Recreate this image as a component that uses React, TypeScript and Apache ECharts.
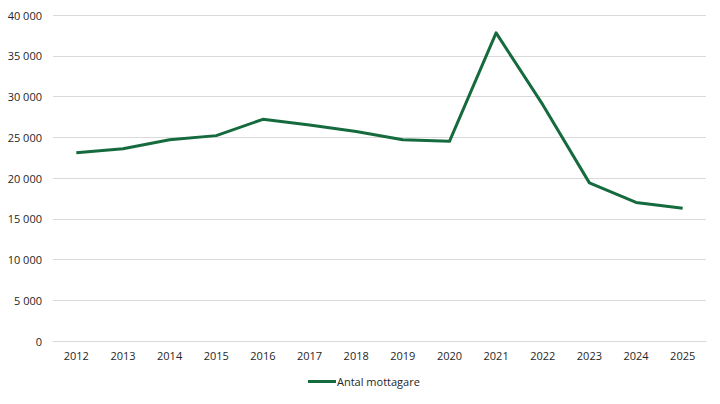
import React, { useEffect, useRef } from "react";
import * as echarts from "echarts";

const years = ["2012", "2013", "2014", "2015", "2016", "2017", "2018", "2019", "2020", "2021", "2022", "2023", "2024", "2025"];
const mottagare = [23100, 23600, 24700, 25200, 27200, 26500, 25700, 24700, 24500, 37800, 29000, 19400, 17000, 16300];
const seriesName = "Antal mottagare";

const fmt = (v: number) => String(v).replace(/\B(?=(\d{3})+(?!\d))/g, " ");

export default function App() {
  const ref = useRef<HTMLDivElement>(null);
  useEffect(() => {
    if (!ref.current) return;
    const chart = echarts.init(ref.current, null, { renderer: "svg" });
    const font = "'Open Sans', 'Noto Sans', sans-serif";
    const txt = "#262626";
    chart.setOption({
      animation: false,
      backgroundColor: "#ffffff",
      grid: { left: 53, right: 14, top: 15, bottom: 63 },
      legend: {
        bottom: 12,
        left: 303,
        itemWidth: 28,
        itemHeight: 3,
        itemGap: 10,
        icon: "rect",
        textStyle: { fontFamily: font, fontSize: 11, color: txt, padding: [0, 0, 0, -4] },
        data: [seriesName],
      },
      xAxis: {
        type: "category",
        data: years,
        boundaryGap: true,
        axisLine: { show: true, lineStyle: { color: "#d9d9d9", width: 1 } },
        axisTick: { show: false },
        axisLabel: { fontFamily: font, fontSize: 11, color: txt, margin: 9 },
      },
      yAxis: {
        type: "value",
        min: 0,
        max: 40000,
        interval: 5000,
        axisLine: { show: false },
        axisTick: { show: false },
        splitLine: { lineStyle: { color: "#d9d9d9", width: 1 } },
        axisLabel: { fontFamily: font, fontSize: 11, color: txt, margin: 11, formatter: (v: number) => fmt(v) },
      },
      series: [
        {
          name: seriesName,
          type: "line",
          data: mottagare,
          symbol: "none",
          lineStyle: { color: "#166b3e", width: 3, join: "round" },
          itemStyle: { color: "#166b3e" },
        },
      ],
    });
    return () => chart.dispose();
  }, []);
  return (
    <div
      style={{
        position: "fixed",
        left: 0,
        top: 0,
        width: 720,
        height: 404,
        boxSizing: "border-box",
        border: "1px solid #d9d9d9",
        background: "#fff",
      }}
    >
      <div ref={ref} style={{ position: "absolute", left: -1, top: -1, width: 720, height: 404 }} />
    </div>
  );
}
